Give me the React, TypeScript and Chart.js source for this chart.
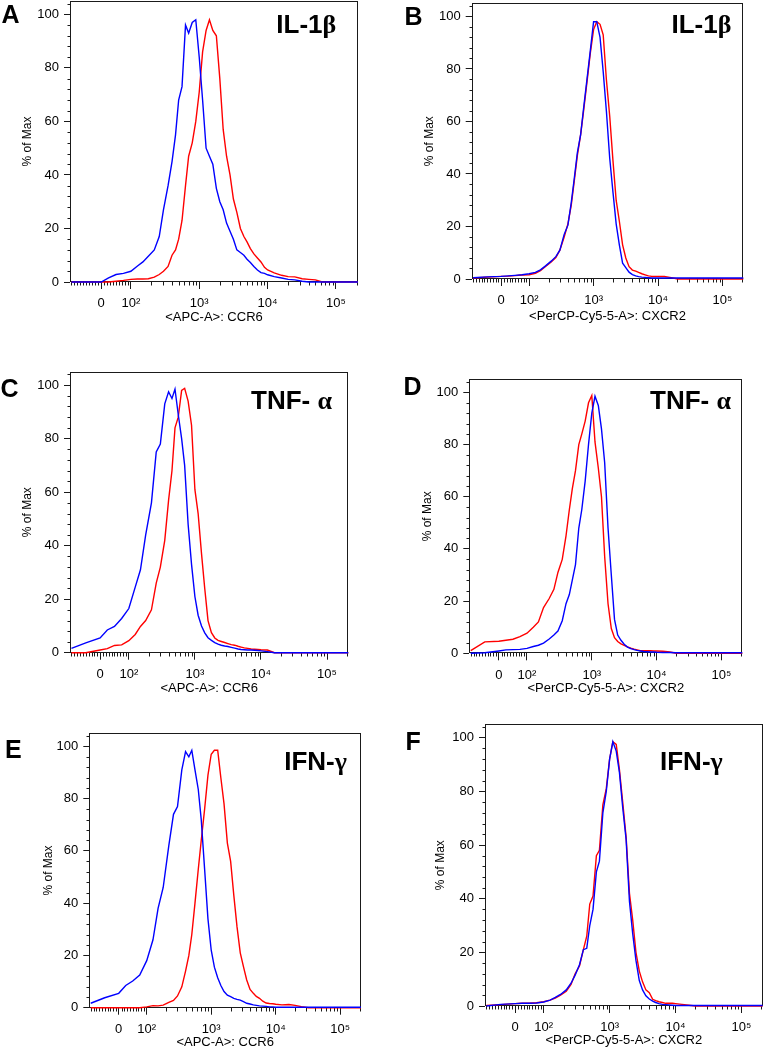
import React, { useEffect, useRef } from 'react';
import { Chart, Scale, registerables } from 'chart.js';

// ---------- shared x grid (fluorescence intensity) ----------
const X_GRID = [
  -100, -50, 0, 25, 50, 75, 100, 125, 150, 180,
  220, 260, 300, 350, 400, 450, 500, 560, 630, 700,
  790, 890, 1000, 1120, 1260, 1410, 1580, 1780, 2000, 2240,
  2510, 2820, 3160, 3550, 4000, 4500, 5000, 5600, 6300, 7100,
  8000, 9000, 10000, 12500, 16000, 20000, 25000, 32000, 40000, 50000,
  63000, 80000, 100000, 160000, 210000,
];

// ---------- series (% of Max) ----------
const A_BLUE = [
  0, 0, 0, 1.5, 2.8, 3.2, 4, 6, 7.5, 9.6,
  12, 17, 27, 36, 45, 55, 68, 73, 96, 93,
  97, 98, 84, 68, 50, 47, 44, 35, 30, 27,
  22, 19, 16, 12, 11, 10, 8.5, 7.3, 5.8, 4.5,
  3.5, 3.2, 2.7, 2, 1.5, 1, 0.8, 0.3, 0, 0,
  0, 0, 0, 0, 0,
];
const A_RED = [
  0, 0, 0, 0, 0.3, 0.6, 1, 1.1, 1.1, 1.2,
  1.8, 2.8, 4, 5.8, 10, 12, 16, 23, 36, 47,
  52, 60, 71, 86, 94, 98, 94, 92, 76, 57,
  47, 40, 31, 26, 20, 17, 15, 12.5, 10.5, 9,
  7.5, 5.5, 4.5, 3.4, 2.5, 2, 1.9, 1.2, 1, 0.8,
  0, 0, 0, 0, 0,
];
const B_BLUE = [
  0.5, 0.8, 1, 1.2, 1.4, 1.6, 2, 2.5, 3.5, 5,
  6.8, 8.5, 11, 17, 20.5, 29, 38, 48, 55, 65,
  76, 87, 98, 98, 92, 79, 64, 46, 33, 21,
  13, 6, 4.3, 2.6, 1.7, 1.2, 0.9, 0.7, 0.6, 0.5,
  0.4, 0.4, 0.4, 0.4, 0.4, 0.4, 0.4, 0.4, 0.4, 0.4,
  0.4, 0.4, 0.4, 0.4, 0.4,
];
const B_RED = [
  0.4, 0.7, 1, 1.1, 1.3, 1.5, 1.6, 2.2, 3.2, 4.8,
  6.5, 8.2, 11, 16, 21, 28, 37, 47, 55, 64,
  75, 86, 95, 98, 97, 93, 76, 62, 45, 30,
  22, 13, 8, 4.7, 3.4, 3, 2.5, 2, 1.6, 1.2,
  1, 1, 1, 1, 0.5, 0, 0, 0, 0, 0,
  0, 0, 0, 0, 0,
];
const C_BLUE = [
  1.6, 3.7, 5.5, 8.5, 9.8, 12.8, 16.5, 24.5, 31, 44,
  56, 75, 78, 93, 97.5, 95, 98.5, 89, 80, 70,
  48, 33, 21, 14, 10, 7.4, 5.6, 4.6, 3.8, 3.2,
  2.8, 2.5, 2.3, 2, 1.7, 1.4, 1.2, 1.1, 1, 1,
  0.9, 0.8, 0.7, 0.4, 0, 0, 0, 0, 0, 0,
  0, 0, 0, 0, 0,
];
const C_RED = [
  0, 0, 1, 1.5, 2.7, 2.9, 4.5, 6.8, 9.8, 12,
  16, 26, 32, 42, 57, 68, 84, 88, 98, 98.8,
  94, 85, 61, 52, 37, 24, 12, 7.5, 5.5, 4.6,
  4.2, 3.8, 3.4, 3, 2.8, 2.4, 2.1, 1.8, 1.6, 1.4,
  1.3, 1.2, 1.1, 1, 0, 0, 0, 0, 0, 0,
  0, 0, 0, 0, 0,
];
const D_BLUE = [
  0, 0.2, 0.9, 1.3, 1.4, 1.5, 1.9, 2.6, 3.1, 3.9,
  5.5, 7, 8.5, 12.5, 19, 22.5, 28, 34, 48, 55,
  66, 80, 92, 98.5, 95, 86, 73, 48, 30, 13,
  7, 5, 3.5, 2.4, 1.8, 1.4, 1.1, 0.9, 0.7, 0.6,
  0.5, 0.5, 0.4, 0.3, 0.3, 0.2, 0.2, 0.2, 0.2, 0.2,
  0.2, 0.2, 0.2, 0.2, 0.2,
];
const D_RED = [
  1, 4.4, 4.6, 5, 5.4, 6.4, 7.7, 10, 12, 17.5,
  21, 24.5, 31, 36, 45, 55, 63, 70, 80, 84,
  89, 96, 98.8, 81, 71, 60, 37, 19, 9.5, 6,
  4.5, 3.6, 3, 2.5, 2, 1.6, 1.3, 1, 1, 1,
  1, 0.9, 0.9, 0.8, 0.5, 0, 0, 0, 0, 0,
  0, 0, 0, 0, 0,
];
const E_BLUE = [
  1.7, 3.8, 5.5, 8.5, 10.2, 12.5, 18, 26, 38, 46,
  62, 74, 77, 91, 98, 96, 98.5, 91, 83.5, 72,
  53, 34, 22, 15.5, 11.5, 8.5, 6.2, 4.8, 4.2, 3.6,
  3.2, 2.9, 2.3, 1.7, 1.4, 1.1, 0.9, 0.7, 0.6, 0.5,
  0.3, 0.3, 0.2, 0.2, 0.2, 0.2, 0.2, 0.2, 0.2, 0.2,
  0.2, 0.2, 0.2, 0.2, 0.2,
];
const E_RED = [
  0, 0, 0, 0, 0, 0, 0.3, 0.8, 0.7, 1,
  2, 2.8, 4.5, 8, 14, 20, 28, 40, 53, 64,
  76, 89, 97, 98.5, 98.5, 88, 78, 63, 56, 43,
  31, 21, 15.7, 10.6, 7, 5.5, 4.3, 3.6, 2.5, 1.8,
  1.6, 1.5, 1.3, 1.1, 1.2, 0.9, 0.4, 0, 0, 0,
  0, 0, 0, 0, 0,
];
const F_BLUE = [
  0, 0.6, 0.9, 1, 1, 1.1, 1.5, 2.2, 3.2, 4.3,
  6, 8.5, 11.5, 15.5, 21, 21.5, 30, 36, 50, 54,
  72, 80, 92, 98.5, 95, 87, 74, 62, 39, 27,
  17, 9.5, 6, 3.8, 2.6, 1.8, 1.3, 0.9, 0.6, 0.5,
  0.4, 0.3, 0.2, 0.2, 0.2, 0.2, 0.2, 0.2, 0.2, 0.2,
  0.2, 0.2, 0.2, 0.2, 0.2,
];
const F_RED = [
  0.2, 0.5, 0.9, 1, 1, 1.2, 1.6, 2.2, 2.9, 4,
  5.5, 8, 12, 15, 21, 26, 38, 41, 56, 58,
  75, 81, 92, 98.5, 97.5, 88, 76, 63, 42, 32,
  20, 13, 9, 6, 5, 2.5, 2, 1.6, 1.3, 1,
  1, 1, 0.9, 0.6, 0.3, 0, 0, 0, 0, 0,
  0, 0, 0, 0, 0,
];

// ---------- axes ----------
const X_MIN = -105;
const X_MAX = 210000;
const X_TICKS = [0, 100, 1000, 10000, 100000];
const X_TICK_LABELS = ['0', '10²', '10³', '10⁴', '10⁵'];
const Y_TICKS = [0, 20, 40, 60, 80, 100];
const Y_MAX = 105;
const Y_TITLE = '% of Max';

const X_MINOR: number[] = [];
for (let v = -100; v <= 90; v += 10) if (v !== 0) X_MINOR.push(v);
for (const d of [100, 1000, 10000]) for (let k = 2; k <= 9; k++) X_MINOR.push(k * d);
X_MINOR.push(200000);
const Y_MINOR: number[] = [];
for (let v = 4; v < Y_MAX; v += 4) if (v % 20 !== 0) Y_MINOR.push(v);

const BLUE = '#0000ff';
const RED = '#ff0000';
const INK = '#000000';
const FRAME = '#1a1a1a';
const SANS = "'Liberation Sans', Arial, Helvetica, sans-serif";
const SERIF = "'Liberation Serif', 'Times New Roman', serif";

// ---------- biexponential-like display scale ----------
const LN10 = Math.log(10);
const LIN = 100;
const fwd = (v: number) => (v >= LIN ? Math.log10(v) : 2 + (v - LIN) / (LIN * LN10));
const inv = (t: number) => (t >= 2 ? Math.pow(10, t) : LIN + (t - 2) * LIN * LN10);

class BiexScale extends Scale {
  static id = 'biex';
  static defaults = {};
  determineDataLimits() {
    const b: any = (this as any).getUserBounds();
    (this as any).min = b.min;
    (this as any).max = b.max;
  }
  buildTicks() {
    return X_TICKS.map((v) => ({ value: v }));
  }
  getLabelForValue(v: number) {
    return String(v);
  }
  configure() {
    super.configure();
    (this as any)._t0 = fwd((this as any).min);
    (this as any)._t1 = fwd((this as any).max);
  }
  getPixelForValue(v: number) {
    const s: any = this;
    return s.getPixelForDecimal((fwd(v) - s._t0) / (s._t1 - s._t0));
  }
  getValueForPixel(p: number) {
    const s: any = this;
    return inv(s._t0 + s.getDecimalForPixel(p) * (s._t1 - s._t0));
  }
}

Chart.register(...registerables, BiexScale as any);

// ---------- panels (layout in page pixels) ----------
const PANELS = [
  { letter: 'A', letterPos: [1.5, 22.7], tag: 'IL-1β', tagPos: [276.3, 33.3], xTitle: '<APC-A>: CCR6',
    blue: A_BLUE, red: A_RED, canvas: [0, 0, 380, 328], box: [70, 1, 358, 282], yTitleX: 28, xTitleOff: 35.7 },
  { letter: 'B', letterPos: [404.5, 25], tag: 'IL-1β', tagPos: [671.5, 33.3], xTitle: '<PerCP-Cy5-5-A>: CXCR2',
    blue: B_BLUE, red: B_RED, canvas: [380, 0, 385, 328], box: [471.7, 3.3, 743.3, 279], yTitleX: 430, xTitleOff: 37.5 },
  { letter: 'C', letterPos: [0.5, 396.7], tag: 'TNF- α', tagPos: [251, 409.3], xTitle: '<APC-A>: CCR6',
    blue: C_BLUE, red: C_RED, canvas: [0, 328, 380, 372], box: [70, 371.7, 348.3, 652.7], yTitleX: 27.7, xTitleOff: 36 },
  { letter: 'D', letterPos: [403.5, 395], tag: 'TNF- α', tagPos: [650, 409.3], xTitle: '<PerCP-Cy5-5-A>: CXCR2',
    blue: D_BLUE, red: D_RED, canvas: [380, 328, 385, 372], box: [469.3, 379.3, 742.3, 653.3], yTitleX: 428, xTitleOff: 35.4 },
  { letter: 'E', letterPos: [5, 758.3], tag: 'IFN-γ', tagPos: [284.2, 770], xTitle: '<APC-A>: CCR6',
    blue: E_BLUE, red: E_RED, canvas: [0, 700, 380, 350], box: [89.3, 733.3, 361, 1007.7], yTitleX: 48.7, xTitleOff: 35 },
  { letter: 'F', letterPos: [405.5, 750], tag: 'IFN-γ', tagPos: [660, 770], xTitle: '<PerCP-Cy5-5-A>: CXCR2',
    blue: F_BLUE, red: F_RED, canvas: [380, 700, 385, 350], box: [485, 724.3, 762.7, 1006], yTitleX: 441, xTitleOff: 34 },
];

function makeDecor(p: any) {
  const [cx, cy] = p.canvas;
  return {
    id: 'decor' + p.letter,
    beforeDatasetsDraw(chart: any) {
      const { ctx, chartArea: a, scales } = chart;
      ctx.save();
      ctx.strokeStyle = FRAME;
      ctx.lineWidth = 1;
      const l = Math.round(a.left) + 0.5, t = Math.round(a.top) + 0.5;
      const r = Math.round(a.right) - 0.5, b = Math.round(a.bottom) - 0.5;
      ctx.strokeRect(l, t, r - l, b - t);
      ctx.beginPath();
      for (const v of X_MINOR) {
        const px = Math.round(scales.x.getPixelForValue(v)) + 0.5;
        if (px < a.left || px > a.right) continue;
        ctx.moveTo(px, b);
        ctx.lineTo(px, b + 4);
      }
      for (const v of Y_MINOR) {
        const py = Math.round(scales.y.getPixelForValue(v)) + 0.5;
        ctx.moveTo(l, py);
        ctx.lineTo(l - 3, py);
      }
      ctx.stroke();
      ctx.restore();
    },
    afterDraw(chart: any) {
      const { ctx } = chart;
      ctx.save();
      ctx.fillStyle = INK;
      ctx.textBaseline = 'alphabetic';
      ctx.textAlign = 'left';
      ctx.font = `bold 25px ${SANS}`;
      ctx.fillText(p.letter, p.letterPos[0] - cx, p.letterPos[1] - cy);
      const prefix = p.tag.slice(0, -1);
      const greek = p.tag.slice(-1);
      const size = 26;
      ctx.font = `bold ${size}px ${SANS}`;
      const tx = p.tagPos[0] - cx, ty = p.tagPos[1] - cy;
      ctx.fillText(prefix, tx, ty);
      const w = ctx.measureText(prefix).width;
      ctx.font = `bold ${size}px ${SERIF}`;
      ctx.fillText(greek, tx + w, ty);
      ctx.restore();
    },
  };
}

function buildConfig(p: any) {
  const [cx, cy, cw, ch] = p.canvas;
  const [bl, bt, br, bb] = p.box;
  const yTitleLh = 12 * 1.2;
  const padL = p.yTitleX - yTitleLh / 2 - cx;
  const yW = bl - cx - padL;
  const padT = bt - cy;
  const padR = cx + cw - br;
  const H = p.xTitleOff + 6.5;
  const padB = cy + ch - bb - H;
  const line = (ys: number[], color: string) => ({
    data: X_GRID.map((x, i) => ({ x, y: ys[i] })),
    borderColor: color,
    backgroundColor: color,
    borderWidth: 1.4,
    pointRadius: 0,
    tension: 0,
    fill: false,
    clip: false,
  });
  return {
    type: 'line',
    data: { datasets: [line(p.blue, BLUE), line(p.red, RED)] },
    options: {
      animation: false,
      responsive: false,
      devicePixelRatio: 1,
      events: [],
      layout: { padding: { left: padL, top: padT, right: padR, bottom: padB } },
      plugins: { legend: { display: false }, tooltip: { enabled: false } },
      scales: {
        x: {
          type: 'biex',
          position: 'bottom',
          min: X_MIN,
          max: X_MAX,
          border: { display: false },
          grid: { display: true, drawOnChartArea: false, drawTicks: true, tickLength: 7, tickColor: FRAME, tickWidth: 1 },
          ticks: {
            autoSkip: false,
            maxRotation: 0,
            minRotation: 0,
            padding: 7,
            color: INK,
            font: { size: 13, family: SANS },
            callback: (_v: any, i: number) => X_TICK_LABELS[i],
          },
          title: { display: true, text: p.xTitle, color: INK, padding: 0, font: { size: 13, family: SANS, lineHeight: 1 } },
          afterFit: (s: any) => {
            s.height = H;
            s.paddingLeft = 0;
            s.paddingRight = 0;
          },
        },
        y: {
          type: 'linear',
          position: 'left',
          min: 0,
          max: Y_MAX,
          bounds: 'data',
          border: { display: false },
          grid: { display: true, drawOnChartArea: false, drawTicks: true, tickLength: 6, tickColor: FRAME, tickWidth: 1 },
          ticks: { padding: 5, color: INK, font: { size: 13, family: SANS } },
          afterBuildTicks: (s: any) => {
            s.ticks = Y_TICKS.map((v) => ({ value: v }));
          },
          title: { display: true, text: Y_TITLE, color: INK, padding: 0, font: { size: 12, family: SANS, lineHeight: 1.2 } },
          afterFit: (s: any) => {
            s.width = yW;
            s.paddingTop = 0;
            s.paddingBottom = 0;
          },
        },
      },
    },
    plugins: [makeDecor(p)],
  };
}

function Panel({ p }: { p: any }) {
  const ref = useRef<HTMLCanvasElement | null>(null);
  useEffect(() => {
    if (!ref.current) return;
    const chart = new Chart(ref.current, buildConfig(p) as any);
    return () => chart.destroy();
  }, [p]);
  const [cx, cy, cw, ch] = p.canvas;
  return (
    <canvas
      ref={ref}
      width={cw}
      height={ch}
      style={{ position: 'absolute', left: cx, top: cy, width: cw, height: ch, display: 'block' }}
    />
  );
}

export default function App() {
  return (
    <div style={{ position: 'absolute', left: 0, top: 0, width: 765, height: 1050, background: '#ffffff', overflow: 'hidden' }}>
      {PANELS.map((p) => (
        <Panel key={p.letter} p={p} />
      ))}
    </div>
  );
}
